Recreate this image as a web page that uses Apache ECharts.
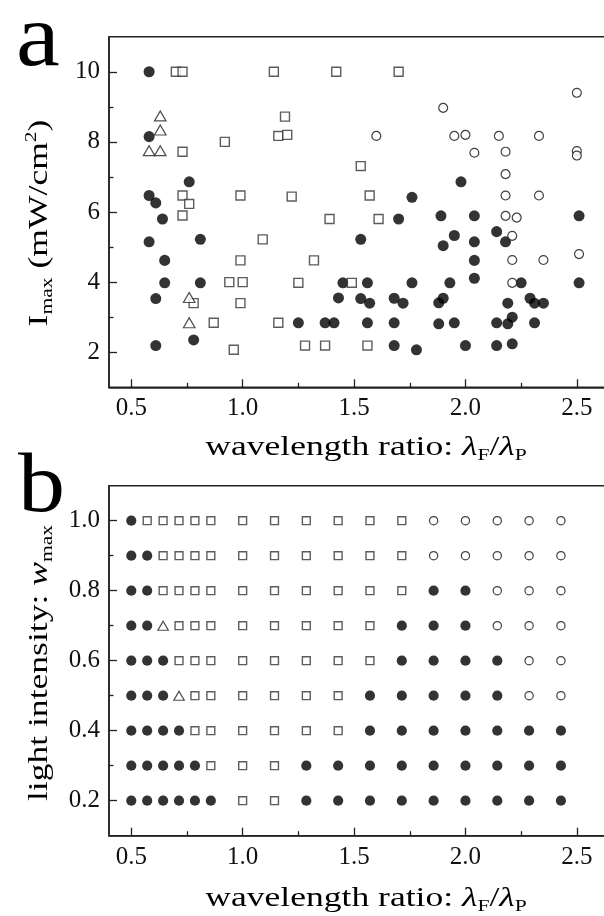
<!DOCTYPE html>
<html>
<head>
<meta charset="utf-8">
<script src="https://cdn.jsdelivr.net/npm/echarts@6/dist/echarts.min.js"></script>
<style>
html,body{margin:0;padding:0;background:#fff;}
#chart{width:604px;height:916px;}
</style>
</head>
<body>
<div id="chart"></div>
<script>
// ---------- Panel a data: [wavelength ratio, Imax (mW/cm^2)] ----------
const aFilled = [
  [0.58,10.0],[0.58,8.15],[0.76,6.86],[0.58,6.47],[0.61,6.26],[0.64,5.80],[0.58,5.15],[0.81,5.22],
  [1.53,5.22],[0.65,4.62],[0.65,3.98],[0.81,3.98],[1.45,3.98],[1.56,3.98],[0.61,3.53],[1.43,3.55],
  [1.53,3.53],[1.57,3.40],[1.25,2.84],[1.37,2.84],[1.41,2.84],[1.56,2.84],[0.61,2.19],[0.78,2.35],
  [1.98,6.86],[1.76,6.42],[1.70,5.80],[1.89,5.89],[2.04,5.89],[2.51,5.89],[2.14,5.44],[1.95,5.33],
  [1.90,5.04],[2.04,5.15],[2.18,5.15],[2.04,4.62],[1.76,3.98],[1.93,3.98],[2.04,4.11],[2.25,3.98],
  [2.51,3.98],[1.68,3.54],[1.72,3.40],[1.88,3.41],[1.90,3.54],[2.19,3.40],[2.29,3.54],[2.31,3.40],
  [2.35,3.40],[1.68,2.84],[1.88,2.81],[1.95,2.84],[2.14,2.84],[2.19,2.81],[2.21,3.00],[2.31,2.84],
  [1.68,2.19],[1.78,2.07],[2.00,2.19],[2.14,2.19],[2.21,2.24]
];
const aSquares = [
  [0.70,10.0],[0.73,10.0],[1.14,10.0],[1.42,10.0],[1.70,10.0],[1.19,8.72],[1.16,8.17],[1.20,8.20],
  [0.92,8.00],[0.73,7.72],[1.53,7.31],[0.73,6.47],[0.76,6.23],[0.99,6.47],[1.22,6.44],[1.57,6.47],
  [0.73,5.90],[1.39,5.80],[1.61,5.80],[1.09,5.22],[0.99,4.62],[1.32,4.62],[0.94,4.00],[1.00,4.00],
  [1.25,3.98],[1.49,3.98],[0.78,3.40],[0.99,3.40],[0.87,2.84],[1.16,2.84],[0.96,2.07],[1.28,2.19],
  [1.37,2.19],[1.56,2.19]
];
const aTriangles = [
  [0.63,8.74],[0.63,8.34],[0.58,7.75],[0.63,7.75],[0.76,3.56],[0.76,2.84]
];
const aOpen = [
  [2.50,9.40],[1.90,8.97],[1.60,8.17],[1.95,8.17],[2.00,8.20],[2.15,8.17],[2.33,8.17],[2.04,7.69],
  [2.18,7.72],[2.50,7.74],[2.50,7.61],[2.18,7.08],[2.18,6.47],[2.33,6.47],[2.18,5.89],[2.23,5.84],
  [2.21,5.32],[2.51,4.80],[2.21,4.63],[2.35,4.63],[2.21,3.98]
];

// ---------- Panel b data: phase grid ----------
const bRatios = [0.5,0.5714,0.6429,0.7143,0.7857,0.8571,1.0,1.1429,1.2857,1.4286,1.5714,1.7143,1.8571,2.0,2.1429,2.2857,2.4286];
const bIntensities = [1.0,0.9,0.8,0.7,0.6,0.5,0.4,0.3,0.2];
// F = filled circle, S = open square, T = open triangle, O = open circle
const bStates = [
  'FSSSSSSSSSSSOOOOO',
  'FFSSSSSSSSSSOOOOO',
  'FFSSSSSSSSSSFFOOO',
  'FFTSSSSSSSSFFFOOO',
  'FFFSSSSSSSSFFFFOO',
  'FFFTSSSSSSFFFFFOO',
  'FFFFSSSSSSFFFFFFF',
  'FFFFFSSSFFFFFFFFF',
  'FFFFFFSSFFFFFFFFF'
];

// ---------- axis ticks ----------
const xMajor = [0.5,1.0,1.5,2.0,2.5];
const xMinor = [0.75,1.25,1.75,2.25];
const aYMajor = [2,4,6,8,10];
const aYMinor = [3,5,7,9];
const bYMajor = [0.2,0.4,0.6,0.8,1.0];
const bYMinor = [0.3,0.5,0.7,0.9];

// ---------- texts ----------
const xTitle = '{n|wavelength ratio: }{i|λ}{s|F}{n|/}{i|λ}{s|P}';
const aYTitle = '{n|I}{s|max}{n| (mW/cm}{sup|2}{n|)}';
const bYTitle = '{n|light intensity: }{i|w}{s|max}';

// build panel b series data
const bData = {F:[],S:[],T:[],O:[]};
bIntensities.forEach((w,r)=>{
  bRatios.forEach((x,c)=>{ bData[bStates[r][c]].push([x,w]); });
});

const FONT = '"Liberation Serif","Times New Roman",serif';
const AX = '#222';

const titleRich = {
  n:{fontFamily:FONT,fontSize:28,color:'#000'},
  i:{fontFamily:FONT,fontSize:28,fontStyle:'italic',color:'#000'},
  s:{fontFamily:FONT,fontSize:17,color:'#000',padding:[16,0,0,0]},
  sup:{fontFamily:FONT,fontSize:17,color:'#000',padding:[0,0,16,0]}
};

function xMain(gi){
  return {
    type:'value',gridIndex:gi,min:0.4,max:2.7,position:'bottom',
    axisLine:{show:true,onZero:false,lineStyle:{color:AX,width:1.5}},
    axisTick:{show:true,inside:true,length:8,customValues:xMajor,lineStyle:{color:AX,width:1.3}},
    axisLabel:{show:true,customValues:xMajor,margin:9,fontFamily:FONT,fontSize:25,color:'#111',
      formatter:v=>Number(v).toFixed(1)},
    splitLine:{show:false}
  };
}
function xMinorAxis(gi){
  return {
    type:'value',gridIndex:gi,min:0.4,max:2.7,position:'bottom',
    axisLine:{show:false,onZero:false},
    axisTick:{show:true,inside:true,length:4.5,customValues:xMinor,lineStyle:{color:AX,width:1.3}},
    axisLabel:{show:false},splitLine:{show:false}
  };
}
function yMain(gi,min,max,major,fmt){
  return {
    type:'value',gridIndex:gi,min:min,max:max,position:'left',
    axisLine:{show:true,onZero:false,lineStyle:{color:AX,width:1.5}},
    axisTick:{show:true,inside:true,length:8,customValues:major,lineStyle:{color:AX,width:1.3}},
    axisLabel:{show:true,customValues:major,margin:9,fontFamily:FONT,fontSize:25,color:'#111',formatter:fmt},
    splitLine:{show:false}
  };
}
function yMinorAxis(gi,min,max,minor){
  return {
    type:'value',gridIndex:gi,min:min,max:max,position:'left',
    axisLine:{show:false,onZero:false},
    axisTick:{show:true,inside:true,length:4.5,customValues:minor,lineStyle:{color:AX,width:1.3}},
    axisLabel:{show:false},splitLine:{show:false}
  };
}

const styles = {
  F:{symbol:'circle',size:[10.5,10.5],item:{color:'#000'}},
  S:{symbol:'rect',size:[8.3,8.3],item:{color:'#fff',borderColor:'#333',borderWidth:1.4}},
  T:{symbol:'triangle',size:[11,9.5],item:{color:'#fff',borderColor:'#222',borderWidth:1.2}},
  O:{symbol:'circle',size:[8.5,8.5],item:{color:'#fff',borderColor:'#111',borderWidth:1.2}}
};
function sc(key,data,xi,yi,scale){
  const s = styles[key];
  return {
    type:'scatter',xAxisIndex:xi,yAxisIndex:yi,data:data,symbol:s.symbol,
    symbolSize:[s.size[0]*scale,s.size[1]*scale],itemStyle:s.item,
    emphasis:{disabled:true},silent:true,z:key==='F'?3:4
  };
}
function titleText(text,x,y,rot){
  return {type:'text',x:x,y:y,rotation:rot,scaleX:1.27,scaleY:1,
    style:{text:text,rich:titleRich,align:'center',verticalAlign:'middle',fill:'#000'}};
}

const chart = echarts.init(document.getElementById('chart'),null,{renderer:'canvas'});
chart.setOption({
  animation:false,
  backgroundColor:'#fff',
  grid:[
    {left:109,top:36.7,width:512.4,height:350.6,show:true,borderColor:AX,borderWidth:1.5,backgroundColor:'transparent',outerBoundsMode:'none',containLabel:false},
    {left:109,top:485.7,width:512.4,height:350,show:true,borderColor:AX,borderWidth:1.5,backgroundColor:'transparent',outerBoundsMode:'none',containLabel:false}
  ],
  xAxis:[xMain(0),xMinorAxis(0),xMain(1),xMinorAxis(1)],
  yAxis:[
    yMain(0,1,11,aYMajor,v=>String(v)),
    yMinorAxis(0,1,11,aYMinor),
    yMain(1,0.1,1.1,bYMajor,v=>Number(v).toFixed(1)),
    yMinorAxis(1,0.1,1.1,bYMinor)
  ],
  graphic:[
    {type:'text',x:16,y:-2,scaleX:1.12,style:{text:'a',font:'88px "Liberation Serif", serif',fill:'#000',align:'left',verticalAlign:'top'}},
    {type:'text',x:18,y:447,scaleX:1.12,style:{text:'b',font:'84px "Liberation Serif", serif',fill:'#000',align:'left',verticalAlign:'top'}},
    titleText(xTitle,366,448,0),
    titleText(xTitle,366,899,0),
    titleText(aYTitle,40,223,Math.PI/2),
    titleText(bYTitle,40,663,Math.PI/2)
  ],
  series:[
    sc('F',aFilled,0,0,1.05),
    sc('S',aSquares,0,0,1.08),
    sc('T',aTriangles,0,0,1.05),
    sc('O',aOpen,0,0,1.05),
    sc('F',bData.F,2,2,0.97),
    sc('S',bData.S,2,2,0.95),
    sc('T',bData.T,2,2,0.95),
    sc('O',bData.O,2,2,0.97)
  ]
});
</script>
</body>
</html>
